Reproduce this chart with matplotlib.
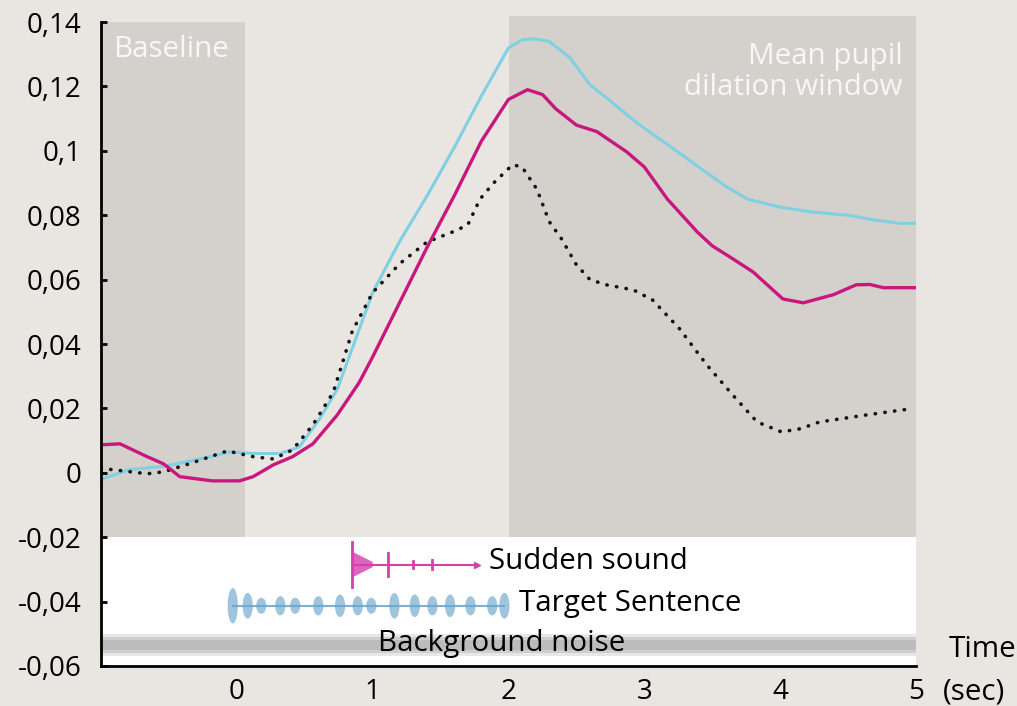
import matplotlib.pyplot as plt
from matplotlib.patches import Rectangle, Ellipse, Polygon

plt.rcParams['font.family'] = ['Open Sans', 'DejaVu Sans']

# pupil dilation curves (time in sec, value)
cyan_t = [-1.0, -0.79, -0.54, -0.3, -0.05, 0.12, 0.32, 0.46, 0.61, 0.74, 0.87, 1.0, 1.2, 1.4, 1.6, 1.8,
          2.0, 2.1, 2.19, 2.3, 2.45, 2.6, 2.75, 2.89, 3.0, 3.17, 3.4, 3.6, 3.76, 4.0, 4.24, 4.5, 4.7, 4.88, 5.0]
cyan_v = [-0.002, 0.001, 0.002, 0.004, 0.0065, 0.006, 0.006, 0.008, 0.0168, 0.026, 0.041, 0.056, 0.072, 0.086,
          0.101, 0.117, 0.132, 0.1345, 0.1348, 0.134, 0.129, 0.1205, 0.1155, 0.1106, 0.107, 0.102, 0.095, 0.089,
          0.085, 0.0825, 0.081, 0.080, 0.0785, 0.0775, 0.0775]

mag_t = [-1.0, -0.86, -0.66, -0.54, -0.42, -0.18, 0.02, 0.12, 0.27, 0.41, 0.56, 0.74, 0.9, 1.0, 1.2, 1.4, 1.6,
         1.8, 2.0, 2.14, 2.25, 2.35, 2.5, 2.65, 2.87, 3.0, 3.17, 3.39, 3.5, 3.65, 3.8, 4.02, 4.17, 4.39, 4.56,
         4.66, 4.76, 5.0]
mag_v = [0.0087, 0.009, 0.005, 0.0028, -0.0012, -0.0025, -0.0025, -0.0012, 0.0025, 0.005, 0.009, 0.018, 0.028,
         0.036, 0.053, 0.07, 0.086, 0.103, 0.116, 0.119, 0.1175, 0.113, 0.108, 0.106, 0.0997, 0.095, 0.085,
         0.0748, 0.0705, 0.0665, 0.0624, 0.054, 0.0528, 0.0553, 0.0584, 0.0585, 0.0575, 0.0575]

dot_t = [-1.0, -0.96, -0.66, -0.54, -0.35, -0.07, 0.12, 0.27, 0.41, 0.56, 0.71, 0.85, 1.0, 1.2, 1.4, 1.6, 1.7,
         1.79, 1.89, 2.03, 2.1, 2.21, 2.3, 2.39, 2.5, 2.6, 2.72, 2.92, 3.06, 3.26, 3.46, 3.65, 3.83, 4.01, 4.15,
         4.29, 4.64, 4.98]
dot_v = [0.0015, 0.0012, -0.0003, 0.0003, 0.0028, 0.0068, 0.005, 0.0043, 0.0071, 0.0149, 0.025, 0.044, 0.056,
         0.065, 0.0717, 0.075, 0.077, 0.085, 0.090, 0.0957, 0.095, 0.088, 0.078, 0.0727, 0.0646, 0.060, 0.0584,
         0.0568, 0.0537, 0.0447, 0.0335, 0.0242, 0.0158, 0.0127, 0.0137, 0.0158, 0.018, 0.020]

# sound sketches in the bottom box
sentence_t = [-0.03, 0.08, 0.18, 0.32, 0.43, 0.6, 0.76, 0.89, 0.99, 1.16, 1.31, 1.44, 1.57, 1.72, 1.88, 1.97]
sentence_amp = [0.0055, 0.004, 0.0025, 0.003, 0.0025, 0.003, 0.0035, 0.003, 0.0025, 0.004, 0.0035, 0.003,
                0.0035, 0.003, 0.003, 0.004]
sudden_t = [0.85, 1.11, 1.3, 1.44]
sudden_amp = [0.007, 0.0035, 0.001, 0.0015]

yticks = [0.14, 0.12, 0.1, 0.08, 0.06, 0.04, 0.02, 0, -0.02, -0.04, -0.06]
ylabels = ['0,14', '0,12', '0,1', '0,08', '0,06', '0,04', '0,02', '0', '-0,02', '-0,04', '-0,06']
xticks = [0, 1, 2, 3, 4, 5]

bg = '#e9e6e1'
shade = '#d4d1cd'
fig = plt.figure(figsize=(10.17, 7.06), dpi=100)
fig.patch.set_facecolor(bg)
ax = fig.add_axes([0.0993, 0.0567, 0.8014, 0.912])
ax.set_facecolor(bg)
ax.set_xlim(-1, 5)
ax.set_ylim(-0.06, 0.14)

ax.add_patch(Rectangle((-1, -0.02), 1.06, 0.16, color=shade, lw=0, zorder=0))
ax.add_patch(Rectangle((2.0, -0.02), 3.0, 0.162, color=shade, lw=0, zorder=0, clip_on=False))
ax.add_patch(Rectangle((-1, -0.06), 6, 0.04, color='white', lw=0, zorder=0.5))

# background noise band (soft edges)
ax.fill_between([-1, 5], -0.0570, -0.0500, color='#d8d8d8', alpha=0.6, lw=0, zorder=1)
ax.fill_between([-1, 5], -0.0560, -0.0510, color='#c8c8c8', alpha=0.8, lw=0, zorder=1)
ax.fill_between([-1, 5], -0.0550, -0.0520, color='#bcbcbc', lw=0, zorder=1)

# target sentence
ax.plot([sentence_t[0], sentence_t[-1]], [-0.0413, -0.0413], color='#7fb0d0', lw=1.5, zorder=2)
for t, a in zip(sentence_t, sentence_amp):
    ax.add_patch(Ellipse((t, -0.0413), 0.075, 2 * a, color='#6aa6cc', alpha=0.65, lw=0, zorder=2))

# sudden sound
ax.plot([sudden_t[0], 1.77], [-0.0285, -0.0285], color='#d63fae', lw=1.5, zorder=2)
ax.plot([1.77], [-0.0285], marker='>', color='#d63fae', ms=5, zorder=2)
ax.add_patch(Polygon([(0.85, -0.0285 + 0.004), (1.0, -0.0285 + 0.0008), (1.0, -0.0285 - 0.0008),
                      (0.85, -0.0285 - 0.004)], color='#d63fae', alpha=0.8, lw=0, zorder=2))
for t, a in zip(sudden_t, sudden_amp):
    ax.plot([t, t], [-0.0285 - a, -0.0285 + a], color='#d63fae', lw=2, zorder=2)

ax.plot(cyan_t, cyan_v, color='#7fd0e2', lw=2.2, zorder=3)
ax.plot(dot_t, dot_v, color='#111111', lw=2.6, linestyle=(0, (0.1, 2.6)), dash_capstyle='round', zorder=4)
ax.plot(mag_t, mag_v, color='#c8177e', lw=2.4, zorder=5)

fs = 21.3
ax.text(1.86, -0.0276, 'Sudden sound', fontsize=fs, va='center', ha='left', zorder=6)
ax.text(2.08, -0.0407, 'Target Sentence', fontsize=fs, va='center', ha='left', zorder=6)
ax.text(1.04, -0.0530, 'Background noise', fontsize=fs, va='center', ha='left', zorder=6)
ax.text(-0.91, 0.1315, 'Baseline', fontsize=fs, color='#f7f7f7', va='center', ha='left', zorder=6)
ax.text(4.9, 0.1245, 'Mean pupil\ndilation window', fontsize=fs, color='#f7f7f7', va='center', ha='right',
        multialignment='right', linespacing=1.05, zorder=6)
ax.text(5.24, -0.055, 'Time', fontsize=fs, va='center', ha='left', clip_on=False)
ax.text(5.2, -0.068, '(sec)', fontsize=fs, va='center', ha='left', clip_on=False)

ax.set_yticks(yticks)
ax.set_yticklabels(ylabels, fontsize=20)
ax.set_xticks(xticks)
ax.set_xticklabels([str(x) for x in xticks], fontsize=20)
ax.tick_params(axis='y', direction='in', length=4, width=2, pad=14)
ax.tick_params(axis='x', length=0, pad=9)
for s in ['top', 'right']:
    ax.spines[s].set_visible(False)
for s in ['left', 'bottom']:
    ax.spines[s].set_linewidth(2)
    ax.spines[s].set_zorder(7)

fig.savefig('out.png', dpi=100, facecolor=bg)
